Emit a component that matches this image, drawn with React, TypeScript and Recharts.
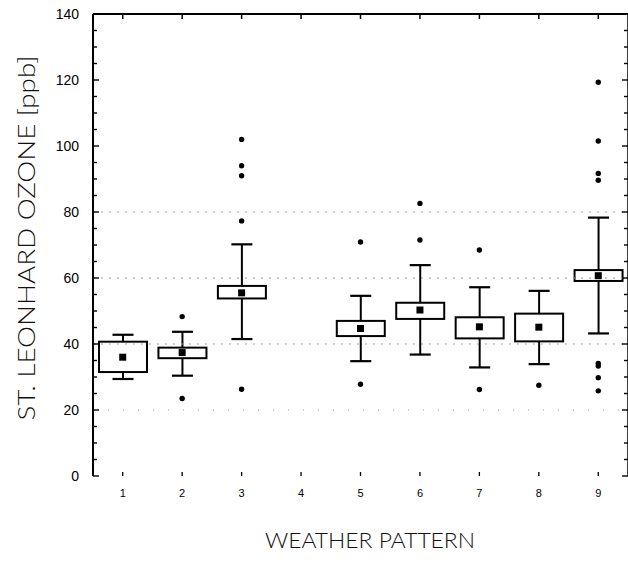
import React from 'react';
import { ComposedChart, Bar, Scatter, XAxis, YAxis, ReferenceLine } from 'recharts';

// ---- data ----
const categories = ['1', '2', '3', '4', '5', '6', '7', '8', '9'];
const whiskerLow = [29.4, 30.4, 41.5, null, 34.8, 36.8, 32.9, 33.9, 43.2];
const whiskerHigh = [42.8, 43.7, 70.2, null, 54.6, 63.9, 57.2, 56.1, 78.3];
const quartile1 = [31.5, 35.7, 53.8, null, 42.4, 47.6, 41.7, 40.8, 59.1];
const quartile3 = [40.7, 38.9, 57.6, null, 47.0, 52.5, 48.1, 49.2, 62.4];
const means = [36.0, 37.4, 55.5, null, 44.7, 50.3, 45.2, 45.1, 60.7];
const outliers: number[][] = [
  [],
  [48.3, 23.5],
  [102, 94, 91, 77.3, 26.3],
  [],
  [70.9, 27.8],
  [82.6, 71.5],
  [68.5, 26.2],
  [27.5],
  [119.3, 101.5, 91.7, 89.6, 34.1, 33.3, 29.8, 25.8],
];
const yAllTicks = [0, 5, 10, 15, 20, 25, 30, 35, 40, 45, 50, 55, 60, 65, 70, 75, 80, 85, 90, 95, 100, 105, 110, 115, 120, 125, 130, 135, 140];
const gridValues = [20, 40, 60, 80];
const xTitle = 'WEATHER PATTERN';
const yTitle = 'ST. LEONHARD OZONE [ppb]';

const maxOut = Math.max(...outliers.map((o) => o.length));
const outKeys = Array.from({ length: maxOut }, (_, k) => 'o' + k);

const rows = categories.map((cat, i) => {
  const row: any = {
    cat,
    lo: whiskerLow[i],
    hi: whiskerHigh[i],
    q1: quartile1[i],
    q3: quartile3[i],
    mean: means[i],
  };
  outKeys.forEach((key, k) => {
    row[key] = outliers[i][k] ?? null;
  });
  return row;
});

const FONT = '"Liberation Sans", Arial, sans-serif';
const TITLE_FONT = 'Lato, "Open Sans", "Liberation Sans", sans-serif';

const BoxShape = (props: any) => {
  const { x, y, width, height, payload } = props;
  if (!payload || payload.lo == null || !isFinite(y) || !isFinite(height)) return <g />;
  const top = Math.min(y, y + height);
  const bot = Math.max(y, y + height);
  const k = (bot - top) / (payload.hi - payload.lo);
  const py = (v: number) => top + (payload.hi - v) * k;
  const cx = x + width / 2;
  const capW = 21;
  const bTop = py(payload.q3);
  const bBot = py(payload.q1);
  return (
    <g>
      <line x1={cx} x2={cx} y1={top} y2={bot} stroke="#000" strokeWidth={2} />
      <line x1={cx - capW / 2} x2={cx + capW / 2} y1={top} y2={top} stroke="#000" strokeWidth={2.2} />
      <line x1={cx - capW / 2} x2={cx + capW / 2} y1={bot} y2={bot} stroke="#000" strokeWidth={2.2} />
      <rect x={x} y={bTop} width={width} height={bBot - bTop} fill="#fff" stroke="#000" strokeWidth={2} />
    </g>
  );
};

const meanShape = (p: any) => {
  if (p == null || p.payload == null || p.payload.mean == null || !isFinite(p.cy)) return <g />;
  return <rect x={p.cx - 3.5} y={p.cy - 3.5} width={7} height={7} fill="#000" />;
};

const makeDot = (key: string) => (p: any) => {
  if (p == null || p.payload == null || p.payload[key] == null || !isFinite(p.cy)) return <g />;
  return <circle cx={p.cx} cy={p.cy} r={2.7} fill="#000" />;
};

const LeftTick = (p: any) => {
  const v = p.payload.value;
  const major = v % 20 === 0;
  return (
    <g>
      <line x1={p.x} x2={p.x + (major ? 6 : 4)} y1={p.y} y2={p.y} stroke="#000" strokeWidth={1.4} />
      {major && (
        <text x={p.x - 14} y={p.y + 5} textAnchor="end" fontSize={14} fontFamily={FONT} fill="#000">
          {v}
        </text>
      )}
    </g>
  );
};

const RightTick = (p: any) => {
  const v = p.payload.value;
  const major = v % 20 === 0;
  return <line x1={p.x} x2={p.x - (major ? 6 : 4)} y1={p.y} y2={p.y} stroke="#000" strokeWidth={1.4} />;
};

const TopTick = (p: any) => <line x1={p.x} x2={p.x} y1={p.y} y2={p.y + 5} stroke="#000" strokeWidth={1.5} />;

const BottomTick = (p: any) => (
  <g>
    <line x1={p.x} x2={p.x} y1={p.y - 4} y2={p.y} stroke="#000" strokeWidth={1.3} />
    <text x={p.x} y={p.y + 21} textAnchor="middle" fontSize={11} fontFamily={FONT} fill="#000">
      {p.payload.value}
    </text>
  </g>
);

export default function App() {
  return (
    <div style={{ position: 'absolute', left: 0, top: 0, width: 628, height: 562, overflow: 'hidden', background: '#fff' }}>
      <ComposedChart width={640} height={562} data={rows} margin={{ top: 13, right: 11, bottom: 56, left: 0 }}>
        <XAxis
          xAxisId="b"
          dataKey="cat"
          type="category"
          height={30}
          axisLine={false}
          tickLine={false}
          tickSize={0}
          tickMargin={0}
          interval={0}
          tick={<BottomTick />}
        />
        <XAxis
          xAxisId="t"
          dataKey="cat"
          type="category"
          orientation="top"
          height={1}
          axisLine={{ stroke: '#000', strokeWidth: 2 }}
          tickLine={false}
          tickSize={0}
          tickMargin={0}
          interval={0}
          tick={<TopTick />}
        />
        <YAxis
          yAxisId="l"
          width={93}
          domain={[0, 140]}
          type="number"
          ticks={yAllTicks}
          interval={0}
          allowDataOverflow
          axisLine={{ stroke: '#000', strokeWidth: 2 }}
          tickLine={false}
          tickSize={0}
          tickMargin={0}
          tick={<LeftTick />}
        />
        <YAxis
          yAxisId="r"
          orientation="right"
          width={1}
          domain={[0, 140]}
          type="number"
          ticks={yAllTicks}
          interval={0}
          allowDataOverflow
          axisLine={{ stroke: '#000', strokeWidth: 1.5 }}
          tickLine={false}
          tickSize={0}
          tickMargin={0}
          tick={<RightTick />}
        />
        {gridValues.map((v) => (
          <ReferenceLine
            key={'g' + v}
            y={v}
            xAxisId="b"
            yAxisId="l"
            stroke="#9a9a9a"
            strokeWidth={1}
            strokeDasharray={v === 20 ? '1 14' : '2 6'}
          />
        ))}
        <Bar
          xAxisId="b"
          yAxisId="l"
          dataKey={(d: any) => (d.lo == null ? null : [d.lo, d.hi])}
          barSize={48}
          shape={<BoxShape />}
          isAnimationActive={false}
        />
        <Scatter xAxisId="b" yAxisId="l" dataKey="mean" shape={meanShape} isAnimationActive={false} />
        {outKeys.map((key) => (
          <Scatter key={key} xAxisId="b" yAxisId="l" dataKey={key} shape={makeDot(key)} isAnimationActive={false} />
        ))}
      </ComposedChart>
      <svg width={628} height={562} style={{ position: 'absolute', left: 0, top: 0, pointerEvents: 'none' }}>
        <text
          x={370}
          y={548}
          textAnchor="middle"
          fontSize={22}
          fontWeight={300}
          fontFamily={TITLE_FONT}
          fill="#111"
          textLength={210}
          lengthAdjust="spacingAndGlyphs"
        >
          {xTitle}
        </text>
        <text
          transform="translate(35, 238) rotate(-90)"
          x={0}
          y={0}
          textAnchor="middle"
          fontSize={24}
          fontWeight={300}
          fontFamily={TITLE_FONT}
          fill="#111"
          textLength={365}
          lengthAdjust="spacingAndGlyphs"
        >
          {yTitle}
        </text>
      </svg>
    </div>
  );
}
